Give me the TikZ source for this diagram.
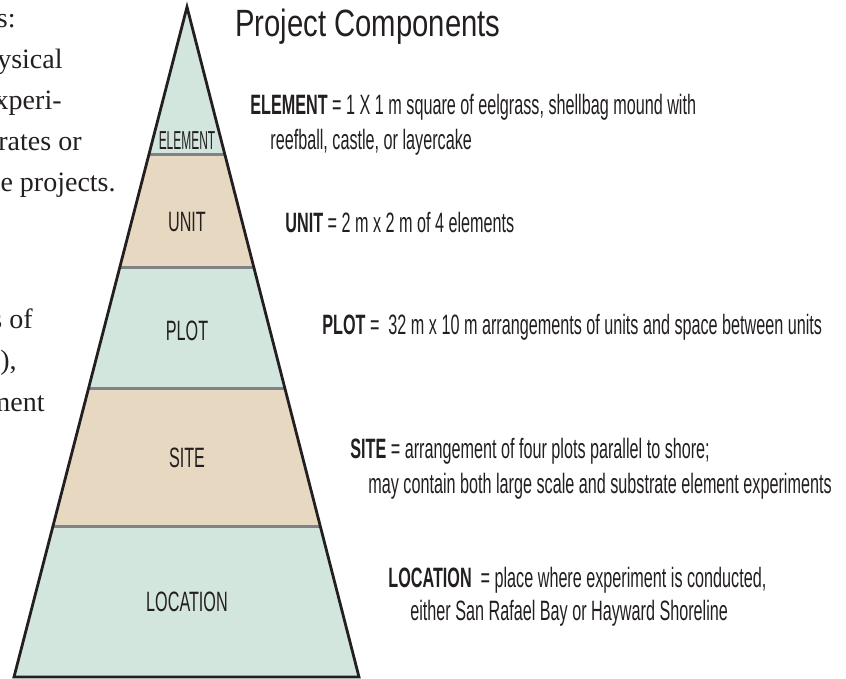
\documentclass[tikz,border=0pt]{standalone}
\usepackage{fontspec}
\setmainfont{Liberation Serif}
\newfontfamily\condfont{Liberation Sans}[FakeStretch=0.578]
\newfontfamily\squeezefont{Liberation Sans}[FakeStretch=0.46]
\newfontfamily\titlefont{Liberation Sans}[FakeStretch=0.77]
\usepackage{tikz}
\usetikzlibrary{calc,positioning}
\definecolor{seagreen}{RGB}{211,230,222}
\definecolor{sand}{RGB}{231,216,193}
\definecolor{divgray}{RGB}{128,130,133}
\definecolor{ink}{RGB}{35,31,32}

\begin{document}
\begin{tikzpicture}[x=1pt,y=-1pt,
thick]
\tikzstyle{divider}=[draw=divgray,line width=3pt]
\tikzstyle{outline}=[draw=ink,line width=2.8pt,line join=miter]
\tikzstyle{level}=[text=ink,inner sep=0pt,font=\condfont\fontsize{28}{34}\selectfont]
\tikzstyle{define}=[text=ink,anchor=base west,inner sep=0pt,font=\condfont\fontsize{28}{34}\selectfont]
\tikzstyle{crop}=[text=ink,anchor=base east,inner sep=0pt,font=\fontsize{28}{41}\selectfont]

\useasboundingbox (0,0) rectangle (846,679);

% pyramid corners
\coordinate (apex)  at (187,7);
\coordinate (baseL) at (14,677);
\coordinate (baseR) at (359,677);

% layer boundaries
\foreach \name/\t in {e1/0.2194,e2/0.3881,e3/0.5687,e4/0.7761}{
  \coordinate (\name l) at ($(apex)!\t!(baseL)$);
  \coordinate (\name r) at ($(apex)!\t!(baseR)$);
}

\fill[seagreen] (apex) -- (e1r) -- (e1l) -- cycle;
\fill[sand]     (e1l) -- (e1r) -- (e2r) -- (e2l) -- cycle;
\fill[seagreen] (e2l) -- (e2r) -- (e3r) -- (e3l) -- cycle;
\fill[sand]     (e3l) -- (e3r) -- (e4r) -- (e4l) -- cycle;
\fill[seagreen] (e4l) -- (e4r) -- (baseR) -- (baseL) -- cycle;

\foreach \name in {e1,e2,e3,e4}
  \draw[divider] (\name l) -- (\name r);

\draw[outline] (apex) -- (baseR) -- (baseL) -- cycle;

% level names
\node[level,font=\squeezefont\fontsize{26}{30}\selectfont] (element) at (187,141) {ELEMENT};
\node[level] (unit)     at (187,222) {UNIT};
\node[level] (plot)     at (187,331) {PLOT};
\node[level] (site)     at (187,458) {SITE};
\node[level] (location) at (187,602) {LOCATION};

% title and definitions
\node[define,font=\titlefont\fontsize{38}{44}\selectfont] (title) at (235,37) {Project Components};

\node[define] (eldef) at (250,115) {\textbf{ELEMENT} = 1 X 1 m square of eelgrass, shellbag mound with};
\node[define] (eldef2) at ($(eldef.base west)+(20,35)$) {reefball, castle, or layercake};
\node[define] (undef) at (285,233) {\textbf{UNIT} = 2 m x 2 m of 4 elements};
\node[define] (pldef) at (322,334) {\textbf{PLOT} =\ \ 32 m x 10 m arrangements of units and space between units};
\node[define] (sidef) at (350,458) {\textbf{SITE} = arrangement of four plots parallel to shore;};
\node[define] (sidef2) at ($(sidef.base west)+(18,35)$) {may contain both large scale and substrate element experiments};
\node[define] (lodef) at (388,587) {\textbf{LOCATION}\ \ = place where experiment is conducted,};
\node[define] (lodef2) at ($(lodef.base west)+(22,33)$) {either San Rafael Bay or Hayward Shoreline};

% cut-off body text at the left edge
\begin{scope}
\clip (0,0) rectangle (846,679);
\foreach \txt/\xe/\yb [count=\i] in {s:/16/28,ysical/63/69,xperi-/62/110,rates or/82/151,e projects./116/192,s of/33/328,{s),}/17/369,ment/45/411}
  \node[crop] (crop\i) at (\xe,\yb) {\txt};
\end{scope}
\end{tikzpicture}
\end{document}
